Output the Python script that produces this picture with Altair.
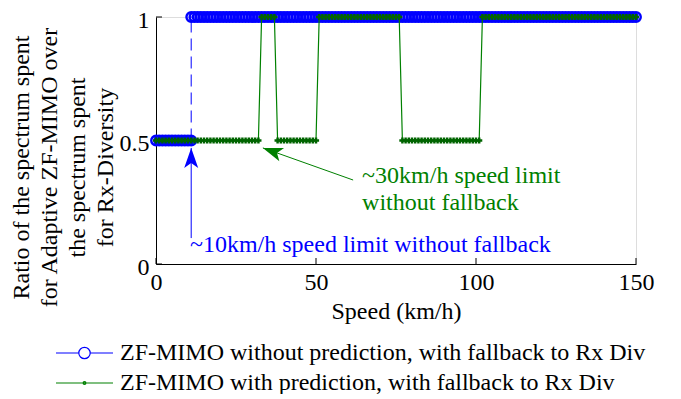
import altair as alt
import pandas as pd

# ---------------- data ----------------
blue_name = "ZF-MIMO without prediction, with fallback to Rx Div"
green_name = "ZF-MIMO with prediction, with fallback to Rx Div"

speed_step = 1  # km/h sampling of the simulated speeds
# runs of constant ratio: (first speed, last speed, ratio)
blue_runs = [(0, 11, 0.5), (11, 150, 1.0)]
green_runs = [(0, 32, 0.5), (33, 37, 1.0), (38, 50, 0.5),
              (51, 76, 1.0), (77, 101, 0.5), (102, 150, 1.0)]

x_ticks = [0, 50, 100, 150]
y_ticks = [0, 0.5, 1]
x_title = "Speed (km/h)"
y_title = ["Ratio of the spectrum spent", "for Adaptive ZF-MIMO over",
           "the spectrum spent", "for Rx-Diversity"]

blue_note = "~10km/h speed limit without fallback"
blue_note_xy = (10.6, 0.049)
blue_arrow = {"x": 11, "y": 0.105, "x2": 11, "y2": 0.47}
green_note = "~30km/h speed limit\nwithout fallback"
green_note_xy = (64.4, 0.328)
green_arrow = {"x": 61.6, "y": 0.34, "x2": 33.4, "y2": 0.47}

BLUE = "#0000FF"
GREEN = "#008000"
FONT = "Liberation Serif"


def expand(runs, name):
    rows = []
    for i, (a, b, r) in enumerate(runs):
        for s in range(a, b + 1, speed_step):
            rows.append({"speed": s, "ratio": r, "run": i, "series": name})
    return pd.DataFrame(rows)


blue_df = expand(blue_runs, blue_name)
green_df = expand(green_runs, green_name)
blue_trans = pd.DataFrame([
    {"x": blue_runs[i][1], "y": blue_runs[i][2], "x2": blue_runs[i + 1][0], "y2": blue_runs[i + 1][2]}
    for i in range(len(blue_runs) - 1)
])

xscale = alt.Scale(domain=[0, 150], nice=False, zero=False)
yscale = alt.Scale(domain=[0, 1], nice=False, zero=False)

x_axis = alt.Axis(values=x_ticks, ticks=False, grid=False, domainColor="black", domainWidth=1,
                  labelFont=FONT, labelFontSize=24, labelColor="black", labelPadding=6,
                  labelFlush=False, labelOverlap=False,
                  title=x_title, titleFont=FONT, titleFontSize=24, titleFontWeight="normal",
                  titleColor="black", titleY=54, titleBaseline="alphabetic")
y_axis = alt.Axis(values=y_ticks, format=".1~f", ticks=False, grid=False, domainColor="black",
                  domainWidth=1, labelFont=FONT, labelFontSize=24, labelColor="black",
                  labelPadding=7, labelOffset=3, labelFlush=False, labelOverlap=False,
                  title=y_title, titleFont=FONT, titleFontSize=24, titleFontWeight="normal",
                  titleColor="black", titleLineHeight=28, titleX=-147, titleY=150,
                  titleAlign="center", titleBaseline="top", titleAngle=270)

X = alt.X("speed:Q", scale=xscale, axis=x_axis)
Y = alt.Y("ratio:Q", scale=yscale, axis=y_axis)

# inward ticks
xt = alt.Chart(pd.DataFrame({"speed": x_ticks})).mark_rule(color="black", strokeWidth=1).encode(
    x=X, y=alt.value(247), y2=alt.value(241))
yt = alt.Chart(pd.DataFrame({"ratio": y_ticks})).mark_rule(color="black", strokeWidth=1).encode(
    y=Y, x=alt.value(0), x2=alt.value(6))

blue_line = alt.Chart(blue_df).mark_line(color=BLUE, strokeWidth=1).encode(x=X, y=Y, detail="run:N")
blue_jump = alt.Chart(blue_trans).mark_rule(color=BLUE, strokeWidth=1, strokeDash=[12, 6]).encode(
    x=alt.X("x:Q", scale=xscale, axis=x_axis), y=alt.Y("y:Q", scale=yscale, axis=y_axis),
    x2="x2:Q", y2="y2:Q")
blue_pts = alt.Chart(blue_df).mark_point(shape="circle", filled=False, color=BLUE, size=90,
                                         strokeWidth=2.4, opacity=1).encode(x=X, y=Y)
green_line = alt.Chart(green_df).mark_line(color=GREEN, strokeWidth=1.2).encode(x=X, y=Y)
green_pts = alt.Chart(green_df).mark_point(shape="cross", filled=True, color="#006400", size=38,
                                           opacity=1).encode(x=X, y=Y)

head_path = "M0,-1L0.7,1L0,0.5L-0.7,1Z"

ba = pd.DataFrame([blue_arrow])
blue_arrow_line = alt.Chart(ba).mark_rule(color=BLUE, strokeWidth=1).encode(
    x=alt.X("x:Q", scale=xscale, axis=x_axis), y=alt.Y("y:Q", scale=yscale, axis=y_axis),
    x2="x2:Q", y2="y2:Q")
blue_head = alt.Chart(ba).mark_point(shape=head_path, filled=True, color=BLUE, size=400, opacity=1,
                                     yOffset=10).encode(
    x=alt.X("x2:Q", scale=xscale, axis=x_axis), y=alt.Y("y2:Q", scale=yscale, axis=y_axis))
blue_text = alt.Chart(pd.DataFrame([{"x": blue_note_xy[0], "y": blue_note_xy[1], "t": blue_note}])).mark_text(
    align="left", baseline="alphabetic", font=FONT, fontSize=24, color=BLUE).encode(
    x=alt.X("x:Q", scale=xscale, axis=x_axis), y=alt.Y("y:Q", scale=yscale, axis=y_axis), text="t:N")

ga = pd.DataFrame([green_arrow])
green_arrow_line = alt.Chart(ga).mark_rule(color=GREEN, strokeWidth=1).encode(
    x=alt.X("x:Q", scale=xscale, axis=x_axis), y=alt.Y("y:Q", scale=yscale, axis=y_axis),
    x2="x2:Q", y2="y2:Q")
green_head = alt.Chart(ga).mark_point(shape=head_path, filled=True, color=GREEN, size=400, opacity=1,
                                      angle=289.6, xOffset=9.4, yOffset=3.35).encode(
    x=alt.X("x2:Q", scale=xscale, axis=x_axis), y=alt.Y("y2:Q", scale=yscale, axis=y_axis))
green_text = alt.Chart(pd.DataFrame([{"x": green_note_xy[0], "y": green_note_xy[1], "t": green_note}])).mark_text(
    align="left", baseline="alphabetic", font=FONT, fontSize=24, color=GREEN, lineBreak="\n",
    lineHeight=27).encode(
    x=alt.X("x:Q", scale=xscale, axis=x_axis), y=alt.Y("y:Q", scale=yscale, axis=y_axis), text="t:N")

# legend (symbols: line with marker)
names = [blue_name, green_name]
blue_sym = "M-1,0H-0.2M0.2,0H1M-0.2,0A0.2,0.2,0,1,1,0.2,0A0.2,0.2,0,1,1,-0.2,0Z"
green_sym = "M-1,0H1M-0.05,0A0.05,0.05,0,1,1,0.05,0A0.05,0.05,0,1,1,-0.05,0Z"
leg = alt.Legend(title=None, orient="none", legendX=-101, legendY=321, labelFont=FONT,
                 labelFontSize=24, labelColor="black", symbolSize=3249, symbolStrokeWidth=1.2,
                 clipHeight=30, labelOffset=6, padding=0, rowPadding=0, labelLimit=800,
                 symbolOpacity=1)
legend_layer = alt.Chart(pd.DataFrame({"series": names})).mark_point(filled=False, opacity=1).encode(
    color=alt.Color("series:N", scale=alt.Scale(domain=names, range=[BLUE, GREEN]), legend=leg),
    shape=alt.Shape("series:N", scale=alt.Scale(domain=names, range=[blue_sym, green_sym]), legend=leg),
).transform_filter("datum.series == 'none'")

chart = alt.layer(
    xt, yt, blue_line, blue_jump, blue_pts, green_line, green_pts,
    blue_arrow_line, blue_head, blue_text, green_arrow_line, green_head, green_text, legend_layer
).properties(
    width=480, height=247,
    autosize=alt.AutoSizeParams(type="none"),
    padding={"left": 148, "top": 9, "right": 25, "bottom": 130},
).configure_view(strokeWidth=0).configure(font=FONT, background="white")

chart.save("out.html", embed_options={"renderer": "svg", "actions": False})
